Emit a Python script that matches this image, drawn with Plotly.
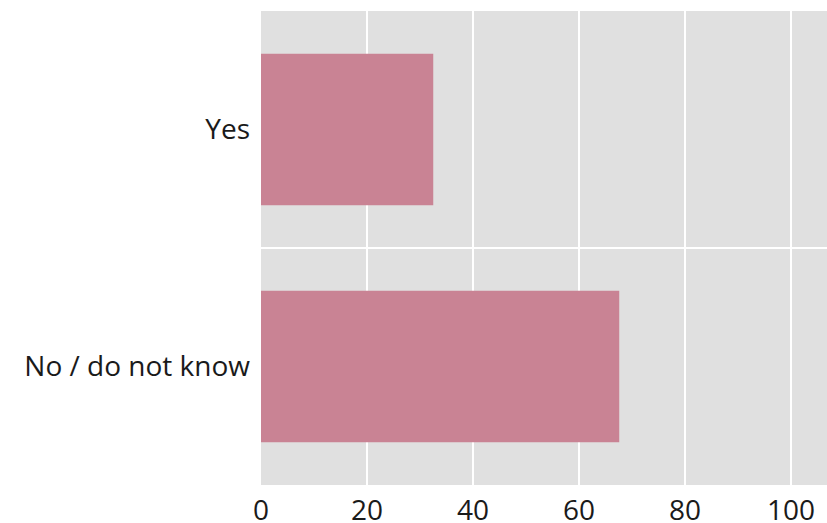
import plotly.graph_objects as go

categories = ["Yes", "No / do not know"]
values = [32.5, 67.6]
tick_values = [0, 20, 40, 60, 80, 100]

fig = go.Figure(go.Bar(
    x=values, y=categories, orientation="h",
    marker=dict(color="#c98394", line=dict(width=0)),
    width=0.64,
))

fig.update_layout(
    width=827, height=523,
    margin=dict(l=261, r=0, t=11, b=38),
    paper_bgcolor="white", plot_bgcolor="#e0e0e0",
    font=dict(family="Open Sans", size=28, color="#1a1a1a"),
    showlegend=False,
    xaxis=dict(range=[0, 106.8], tickvals=tick_values, showgrid=True,
               gridcolor="white", gridwidth=2, zeroline=False, ticks="",
               showline=False, ticklabelstandoff=6, automargin=False),
    yaxis=dict(autorange="reversed", showgrid=False, ticks="",
               zeroline=False, showline=False, ticklabelstandoff=10,
               automargin=False),
    shapes=[dict(type="line", xref="paper", yref="y", x0=0, x1=1,
                 y0=0.5, y1=0.5, line=dict(color="white", width=2),
                 layer="below")],
)

fig.write_html("out.html", config={"displayModeBar": False},
               post_script="document.body.style.margin='0';document.body.style.overflow='hidden';")
